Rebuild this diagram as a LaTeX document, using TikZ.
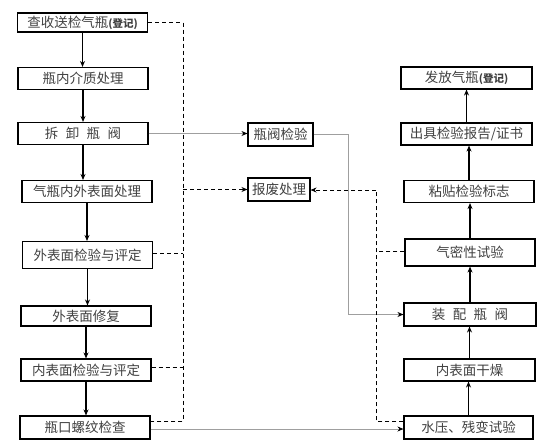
\documentclass[tikz,border=0pt]{standalone}
\usepackage{fontspec}
\setmainfont{Noto Sans CJK SC}
\usetikzlibrary{positioning, calc, arrows.meta}

\begin{document}
\begin{tikzpicture}[>=stealth, x=1pt, y=-1pt,
    box/.style={draw, line width=1.1pt, minimum width=130pt, minimum height=22pt, inner sep=0pt, text=black!75, font=\fontsize{13.5}{15}\selectfont},
    flow/.style={-{Stealth[length=6pt, width=5pt]}, line width=1.4pt},
    valve/.style={-{Stealth[black, length=6pt, width=5pt]}, draw=gray!75, line width=0.8pt},
    scrap/.style={dash pattern=on 4pt off 3pt, line width=0.9pt}]
    \useasboundingbox (0,0) rectangle (553,447);

    % Left column
    \node[box, minimum height=19pt] (L1) at (82.5,22.5) {查收送检气瓶{\fontsize{10.5}{12}\selectfont\bfseries (登记)}};
    \node[box] (L2) at (83,78.5) {瓶内介质处理};
    \node[box] (L3) at (83,133.5) {拆\hspace{0.55em}卸\hspace{0.55em}瓶\hspace{0.55em}阀};
    \node[box] (L4) at (87,191.5) {气瓶内外表面处理};
    \node[box, minimum height=27pt] (L5) at (87.5,255) {外表面检验与评定};
    \node[box, minimum height=20pt] (L6) at (86,316) {外表面修复};
    \node[box] (L7) at (86,370) {内表面检验与评定};
    \node[box, minimum height=23pt] (L8) at (85,427.5) {瓶口螺纹检查};

    % Middle
    \node[box, minimum width=65pt, minimum height=23pt] (M1) at (280.5,134.5) {瓶阀检验};
    \node[box, minimum width=62pt, minimum height=23pt] (M2) at (279,189.5) {报废处理};

    % Right column
    \node[box, minimum width=131pt] (R1) at (466.5,78) {发放气瓶{\fontsize{10.5}{12}\selectfont\bfseries (登记)}};
    \node[box, minimum width=131pt] (R2) at (466.5,134) {出具检验报告/证书};
    \node[box] (R3) at (469,191.5) {粘贴检验标志};
    \node[box, minimum height=27pt] (R4) at (470,252.5) {气密性试验};
    \node[box, minimum width=132pt, minimum height=23pt] (R5) at (470,314.5) {装\hspace{0.55em}配\hspace{0.55em}瓶\hspace{0.55em}阀};
    \node[box, minimum width=131pt] (R6) at (469.5,370) {内表面干燥};
    \node[box, minimum width=129pt, minimum height=23pt] (R7) at (468.5,427.5) {水压、残变试验};

    % Main flow down the left
    \draw[flow] (L1.south) -- (L1.south |- L2.north);
    \draw[flow] (L2.south) -- (L2.south |- L3.north);
    \draw[flow] (L3.south) -- (L3.south |- L4.north);
    \draw[flow] (L4.south) -- (L4.south |- L5.north);
    \draw[flow] (L5.south) -- (L5.south |- L6.north);
    \draw[flow] (L6.south) -- (L6.south |- L7.north);
    \draw[flow] (L7.south) -- (L7.south |- L8.north);

    % Main flow up the right
    \draw[flow] (R7.north) -- (R7.north |- R6.south);
    \draw[flow] (R6.north) -- (R6.north |- R5.south);
    \draw[flow] (R5.north) -- (R5.north |- R4.south);
    \draw[flow] (R4.north) -- (R4.north |- R3.south);
    \draw[flow] (R3.north) -- (R3.north |- R2.south);
    \draw[flow] (R2.north) -- (R2.north |- R1.south);

    % Valve path
    \coordinate (vTurn) at (348,314.5);
    \draw[valve] (L3.east) -- (L3.east -| M1.west);
    \draw[valve] (M1.east) -| (vTurn) -- (R5.west);
    \draw[valve] ([yshift=-1.5pt]L8.east) -- ([yshift=-1.5pt]R7.west);

    % Scrap lines
    \coordinate (sTop) at (183,22.5);
    \coordinate (sBot) at (183,421);
    \draw[scrap] (L1.east) -- (sTop) -- (sBot) -- (sBot -| L8.east);
    \draw[scrap] ([yshift=2pt]L5.east) -- ([yshift=2pt]L5.east -| sTop);
    \draw[scrap] ([yshift=3pt]L7.east) -- ([yshift=3pt]L7.east -| sTop);
    \draw[scrap, -{Stealth[length=6pt, width=5pt]}] (M2.west -| sTop) -- (M2.west);

    \coordinate (tTop) at (376,190);
    \coordinate (tBot) at (376,421);
    \draw[scrap] (R7.west |- tBot) -- (tBot) -- (tTop);
    \draw[scrap, -{Stealth[length=6pt, width=5pt]}] (tTop) -- (tTop -| M2.east);
    \draw[scrap] ([yshift=1.5pt]R4.west) -- ([yshift=1.5pt]R4.west -| tTop);
\end{tikzpicture}
\end{document}
